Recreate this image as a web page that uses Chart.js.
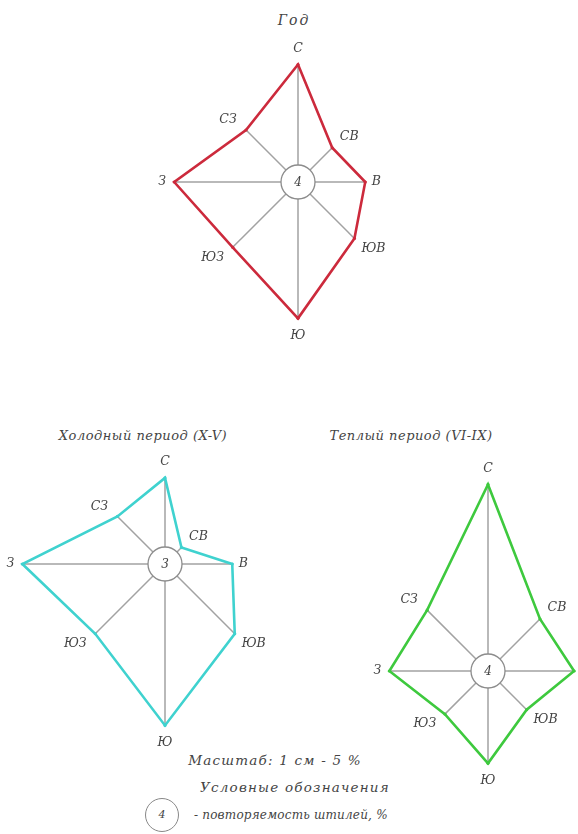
<!DOCTYPE html>
<html lang="ru">
<head>
<meta charset="utf-8">
<script src="https://cdn.jsdelivr.net/npm/chart.js@4.4.0/dist/chart.umd.min.js"></script>
<style>
    html, body { margin: 0; padding: 0; overflow: hidden; }
    body {
        width: 578px;
        height: 834px;
        position: relative;
        background: #fff;
        font-family: "DejaVu Serif", "Liberation Serif", serif;
        font-style: italic;
        color: #444;
    }
    canvas { position: absolute; }
    .txt {
        position: absolute;
        white-space: nowrap;
        font-size: 13px;
        line-height: 16px;
        letter-spacing: 0.5px;
        transform: translate(-50%, -50%);
    }
    .big { font-size: 13.5px; letter-spacing: 1.2px; }
    .calm-key {
        position: absolute;
        left: 145px;
        top: 798px;
        width: 32px;
        height: 32px;
        border: 1.5px solid #888;
        border-radius: 50%;
        font-size: 11px;
        line-height: 32px;
        text-align: center;
    }
</style>
</head>
<body>
<div class="txt" style="left:294px; top:20px; font-size:14px; letter-spacing:2px">Год</div>
<div class="txt" style="left:143px; top:436px">Холодный период (X-V)</div>
<div class="txt" style="left:411px; top:436px">Теплый период (VI-IX)</div>
<div class="txt big" style="left:275px; top:760px">Масштаб: 1 см - 5 %</div>
<div class="txt big" style="left:295px; top:787px">Условные обозначения</div>
<div class="calm-key">4</div>
<div class="txt" style="left:194px; top:815px; font-size:12px; letter-spacing:0.2px; transform:translate(0,-50%)">- повторяемость штилей, %</div>

<canvas id="rose-year"></canvas>
<canvas id="rose-cold"></canvas>
<canvas id="rose-warm"></canvas>

<script>
// Wind directions (clockwise from north)
const directions = ["С", "СВ", "В", "ЮВ", "Ю", "ЮЗ", "З", "СЗ"];

// Wind frequency, %
const yearValues = [16, 5, 8, 10, 19, 12, 17, 9];
const coldValues = [11, 1, 8, 13, 23, 13, 20, 8];
const warmValues = [27, 9, 11, 6, 12, 7, 13, 11];

// Calm frequency, %
const yearCalm = 4;
const coldCalm = 3;
const warmCalm = 4;

// drawing scale: px per percent, radius of the calm circle
const PX_PER_PCT = 6.28;
const CALM_R = 17;

// label offsets from the tip of each ray
const labelOffsets = [[0, -16], [17, -11], [11, 0], [19, 10], [0, 17], [-20, 10], [-12, 0], [-18, -10]];

const rosePlugin = {
    id: "rose",
    beforeDatasetsDraw(chart, args, opts) {
        const r = chart.scales.r;
        const ctx = chart.ctx;
        const values = chart.data.datasets[0].data;
        ctx.save();

        // rays from the calm circle to each point
        ctx.strokeStyle = "#a2a2a2";
        ctx.lineWidth = 1.5;
        values.forEach((v, i) => {
            const a = r.getPointPositionForValue(i, 0);
            const b = r.getPointPositionForValue(i, v);
            ctx.beginPath();
            ctx.moveTo(a.x, a.y);
            ctx.lineTo(b.x, b.y);
            ctx.stroke();
        });

        // calm circle
        ctx.beginPath();
        ctx.arc(r.xCenter, r.yCenter, r.getDistanceFromCenterForValue(0), 0, Math.PI * 2);
        ctx.fillStyle = "#fff";
        ctx.fill();
        ctx.strokeStyle = "#8c8c8c";
        ctx.lineWidth = 1.3;
        ctx.stroke();

        ctx.fillStyle = "#444";
        ctx.font = "italic 12px 'DejaVu Serif'";
        ctx.textAlign = "center";
        ctx.textBaseline = "middle";
        ctx.fillText(String(opts.calm), r.xCenter, r.yCenter + 1);
        ctx.restore();
    },
    afterDatasetsDraw(chart) {
        const r = chart.scales.r;
        const ctx = chart.ctx;
        const values = chart.data.datasets[0].data;
        ctx.save();
        ctx.fillStyle = "#444";
        ctx.font = "italic 12.5px 'DejaVu Serif'";
        ctx.textAlign = "center";
        ctx.textBaseline = "middle";
        chart.data.labels.forEach((lab, i) => {
            const p = r.getPointPositionForValue(i, values[i]);
            ctx.fillText(lab, p.x + labelOffsets[i][0], p.y + labelOffsets[i][1]);
        });
        ctx.restore();
    }
};

function makeRose(id, cx, cy, half, values, calm, color) {
    const canvas = document.getElementById(id);
    canvas.width = half * 2;
    canvas.height = half * 2;
    canvas.style.left = (cx - half) + "px";
    canvas.style.top = (cy - half) + "px";

    const min = -CALM_R / PX_PER_PCT;
    const max = min + half / PX_PER_PCT;

    return new Chart(canvas.getContext("2d"), {
        type: "radar",
        data: {
            labels: directions,
            datasets: [
                {
                    data: values,
                    borderColor: color,
                    borderWidth: 2.6,
                    backgroundColor: "rgba(0,0,0,0)",
                    fill: false,
                    pointRadius: 1.6,
                    pointBackgroundColor: color,
                    pointBorderWidth: 0,
                    tension: 0,
                },
            ],
        },
        options: {
            responsive: false,
            animation: false,
            layout: { padding: 0 },
            plugins: {
                legend: { display: false },
                tooltip: { enabled: false },
                rose: { calm: calm },
            },
            scales: {
                r: {
                    min: min,
                    max: max,
                    startAngle: 0,
                    ticks: { display: false },
                    grid: { display: false },
                    angleLines: { display: false },
                    pointLabels: { display: false },
                },
            },
        },
        plugins: [rosePlugin],
    });
}

document.addEventListener("DOMContentLoaded", () => {
    makeRose("rose-year", 298, 182, 170, yearValues, yearCalm, "#cc2a3c");
    makeRose("rose-cold", 165, 564, 185, coldValues, coldCalm, "#3fd2cf");
    makeRose("rose-warm", 488, 671, 210, warmValues, warmCalm, "#3ec93e");
});
</script>
</body>
</html>
